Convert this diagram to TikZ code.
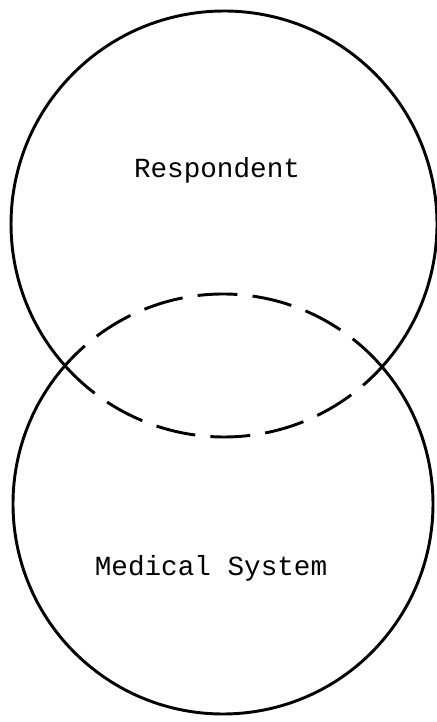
\documentclass[tikz,border=0pt]{standalone}
\usepackage{fontspec}
\setmonofont{Liberation Mono}

\begin{document}
\begin{tikzpicture}[x=0.03cm, y=0.03cm]
% Styles
\tikzset{
  ring/.style={black, line width=2.5pt},
  overlap/.style={black, line width=2.5pt, dash pattern=on 34pt off 13pt},
  label/.style={font=\ttfamily\fontsize{23.6}{28}\selectfont, inner sep=0pt}
}

% Page frame
\useasboundingbox (0,0) rectangle (436,722);

% Circle centres
\coordinate (resp) at (224,498);
\coordinate (med) at (223,218);

% Respondent circle: solid above, dashed inside the overlap
\draw[ring] ([shift={(-41.9:213)}]resp) arc[start angle=-41.9, end angle=221.9, radius=213];
\draw[overlap] ([shift={(221.9:213)}]resp) arc[start angle=221.9, end angle=318.1, radius=213];

% Medical system circle: solid below, dashed inside the overlap
\draw[ring] ([shift={(139:210)}]med) arc[start angle=139, end angle=401, radius=210];
\draw[overlap] ([shift={(41:210)}]med) arc[start angle=41, end angle=139, radius=210];

% Labels
\node[label] (respondent) at (217,552) {Respondent};
\node[label] (medsys) at (211,154) {Medical System};

\end{tikzpicture}
\end{document}
